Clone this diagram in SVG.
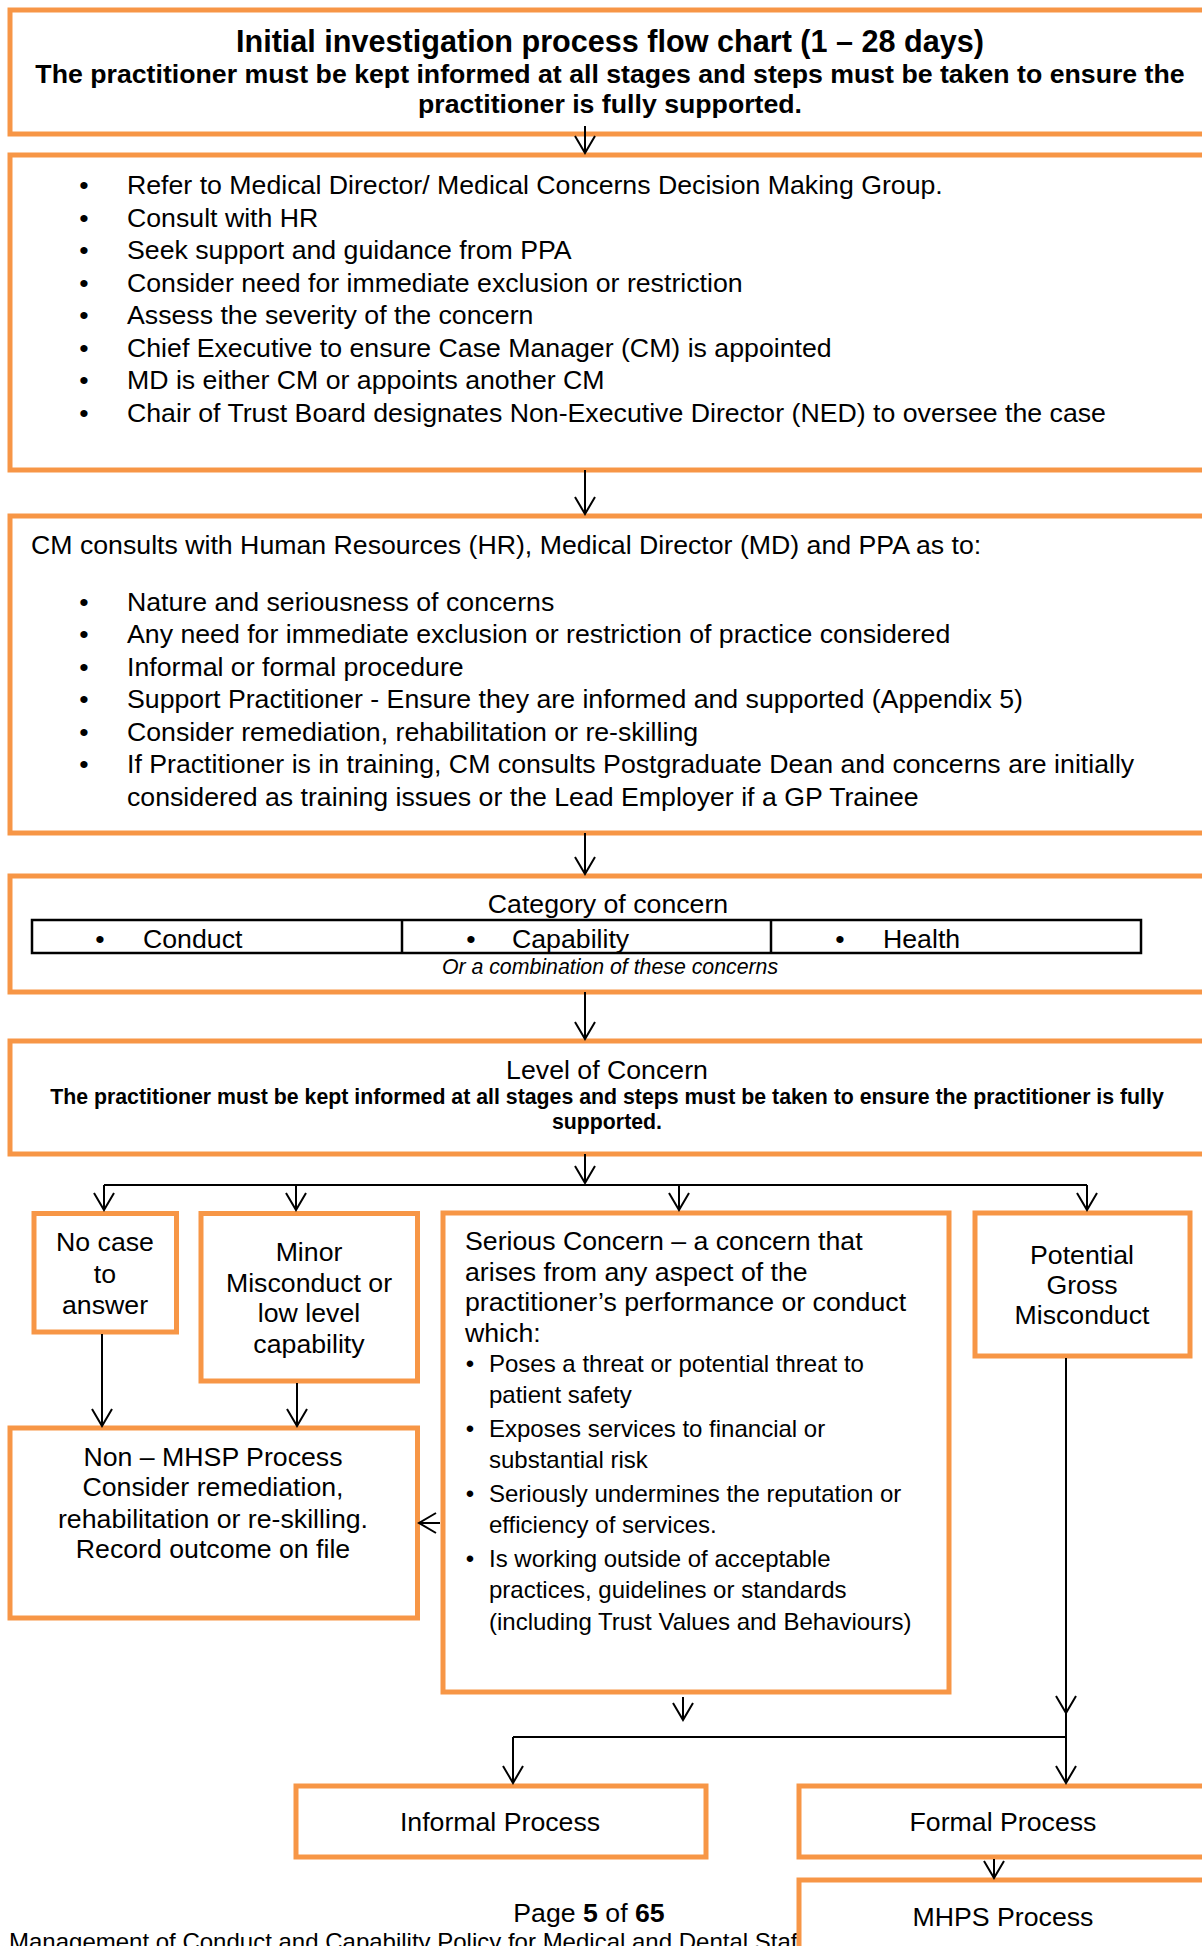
<svg xmlns="http://www.w3.org/2000/svg" width="1202" height="1946" viewBox="0 0 1202 1946">
<style>
.box{fill:#fff;stroke:#F79646;stroke-width:5}
.t{font-family:"Liberation Sans",Arial,sans-serif;font-size:26.7px;fill:#000}
.s{font-size:24px}
.b{font-weight:bold}
.m{text-anchor:middle}
.c{stroke:#000;stroke-width:2;fill:none}
.ah{stroke:#000;stroke-width:2;fill:none}
</style>
<defs>
<marker id="arr" markerUnits="userSpaceOnUse" markerWidth="24" markerHeight="24" viewBox="-20 -12 22 24" refX="0" refY="0" orient="auto" overflow="visible">
<path class="ah" d="M-17,-10 L0,0 L-17,10"/>
</marker>
</defs>
<rect width="1202" height="1946" fill="#fff"/>

<g id="header">
<rect class="box" x="10" y="10" width="1200" height="124"/>
<text class="t b m" x="610" y="52" style="font-size:30.6px">Initial investigation process flow chart (1 – 28 days)</text>
<text class="t b m" x="610" y="83">The practitioner must be kept informed at all stages and steps must be taken to ensure the</text>
<text class="t b m" x="610" y="113">practitioner is fully supported.</text>
</g>

<g id="refer">
<rect class="box" x="10" y="155" width="1200" height="315"/>
<g class="t">
<text x="84" y="194" class="m">•</text><text x="127" y="194">Refer to Medical Director/ Medical Concerns Decision Making Group.</text>
<text x="84" y="226.5" class="m">•</text><text x="127" y="226.5">Consult with HR</text>
<text x="84" y="259" class="m">•</text><text x="127" y="259">Seek support and guidance from PPA</text>
<text x="84" y="291.5" class="m">•</text><text x="127" y="291.5">Consider need for immediate exclusion or restriction</text>
<text x="84" y="324" class="m">•</text><text x="127" y="324">Assess the severity of the concern</text>
<text x="84" y="356.5" class="m">•</text><text x="127" y="356.5">Chief Executive to ensure Case Manager (CM) is appointed</text>
<text x="84" y="389" class="m">•</text><text x="127" y="389">MD is either CM or appoints another CM</text>
<text x="84" y="421.5" class="m">•</text><text x="127" y="421.5">Chair of Trust Board designates Non-Executive Director (NED) to oversee the case</text>
</g>
</g>

<g id="consult">
<rect class="box" x="10" y="516" width="1200" height="317"/>
<g class="t">
<text x="31" y="553.5">CM consults with Human Resources (HR), Medical Director (MD) and PPA as to:</text>
<text x="84" y="610.5" class="m">•</text><text x="127" y="610.5">Nature and seriousness of concerns</text>
<text x="84" y="643" class="m">•</text><text x="127" y="643">Any need for immediate exclusion or restriction of practice considered</text>
<text x="84" y="675.5" class="m">•</text><text x="127" y="675.5">Informal or formal procedure</text>
<text x="84" y="708" class="m">•</text><text x="127" y="708">Support Practitioner  - Ensure they are informed and supported (Appendix 5)</text>
<text x="84" y="740.5" class="m">•</text><text x="127" y="740.5">Consider remediation, rehabilitation or re-skilling</text>
<text x="84" y="773" class="m">•</text><text x="127" y="773">If Practitioner is in training, CM consults Postgraduate Dean and concerns are initially</text>
<text x="127" y="805.5">considered as training issues or the Lead Employer if a GP Trainee</text>
</g>
</g>

<g id="category">
<rect class="box" x="10" y="876" width="1200" height="116"/>
<text class="t m" x="608" y="912.5">Category of concern</text>
<rect x="32" y="920" width="1109" height="33" fill="none" stroke="#000" stroke-width="2.5"/>
<line x1="402" y1="920" x2="402" y2="953" stroke="#000" stroke-width="2.5"/>
<line x1="771" y1="920" x2="771" y2="953" stroke="#000" stroke-width="2.5"/>
<g class="t">
<text x="100" y="947.5" class="m">•</text><text x="143" y="947.5">Conduct</text>
<text x="471" y="947.5" class="m">•</text><text x="512" y="947.5">Capability</text>
<text x="840" y="947.5" class="m">•</text><text x="883" y="947.5">Health</text>
</g>
<text class="t m" x="610" y="974" style="font-size:21.3px;font-style:italic">Or a combination of these concerns</text>
</g>

<g id="level">
<rect class="box" x="10" y="1041" width="1200" height="113"/>
<text class="t m" x="607" y="1079">Level of Concern</text>
<text class="t b m" x="607" y="1104" style="font-size:21.3px">The practitioner must be kept informed at all stages and steps must be taken to ensure the practitioner is fully</text>
<text class="t b m" x="607" y="1129" style="font-size:21.3px">supported.</text>
</g>

<g id="nocase">
<rect class="box" x="34" y="1213.5" width="142.5" height="118.5"/>
<text class="t m" x="105" y="1251">No case</text>
<text class="t m" x="105" y="1283">to</text>
<text class="t m" x="105" y="1314">answer</text>
</g>

<g id="minor">
<rect class="box" x="201" y="1213.5" width="216.5" height="167.5"/>
<text class="t m" x="309" y="1261">Minor</text>
<text class="t m" x="309" y="1292">Misconduct or</text>
<text class="t m" x="309" y="1322">low level</text>
<text class="t m" x="309" y="1353">capability</text>
</g>

<g id="serious">
<rect class="box" x="443" y="1213" width="506" height="479"/>
<g class="t">
<text x="465" y="1249.5">Serious Concern – a concern that</text>
<text x="465" y="1280.5">arises from any aspect of the</text>
<text x="465" y="1311">practitioner’s performance or conduct</text>
<text x="465" y="1341.5">which:</text>
</g>
<g class="t s">
<text x="470" y="1371.5" class="m">•</text><text x="489" y="1371.5">Poses a threat or potential threat to</text>
<text x="489" y="1403">patient safety</text>
<text x="470" y="1436.5" class="m">•</text><text x="489" y="1436.5">Exposes services to financial or</text>
<text x="489" y="1468">substantial risk</text>
<text x="470" y="1501.5" class="m">•</text><text x="489" y="1501.5">Seriously undermines the reputation or</text>
<text x="489" y="1533">efficiency of services.</text>
<text x="470" y="1566.5" class="m">•</text><text x="489" y="1566.5">Is working outside of acceptable</text>
<text x="489" y="1598">practices, guidelines or standards</text>
<text x="489" y="1629.5">(including Trust Values and Behaviours)</text>
</g>
</g>

<g id="potential">
<rect class="box" x="975" y="1213" width="215" height="143"/>
<text class="t m" x="1082" y="1264">Potential</text>
<text class="t m" x="1082" y="1294">Gross</text>
<text class="t m" x="1082" y="1324">Misconduct</text>
</g>

<g id="nonmhsp">
<rect class="box" x="10" y="1428" width="407.5" height="190"/>
<text class="t m" x="213" y="1466">Non – MHSP Process</text>
<text class="t m" x="213" y="1496">Consider remediation,</text>
<text class="t m" x="213" y="1528">rehabilitation or re-skilling.</text>
<text class="t m" x="213" y="1558">Record outcome on file</text>
</g>

<g id="informal">
<rect class="box" x="296" y="1786" width="410" height="71"/>
<text class="t m" x="500" y="1831">Informal Process</text>
</g>

<g id="formal">
<rect class="box" x="799" y="1786" width="420" height="71"/>
<text class="t m" x="1003" y="1831">Formal Process</text>
</g>

<g id="footer">
<text class="t m" x="589" y="1922">Page <tspan class="b">5</tspan> of <tspan class="b">65</tspan></text>
<text class="t s" x="9" y="1950">Management of Conduct and Capability Policy for Medical and Dental Staff</text>
</g>

<g id="mhps">
<rect class="box" x="799" y="1880" width="420" height="100"/>
<text class="t m" x="1003" y="1926">MHPS Process</text>
</g>

<g id="connectors">
<line class="c" x1="585" y1="126" x2="585" y2="153" marker-end="url(#arr)"/>
<line class="c" x1="585" y1="470" x2="585" y2="514" marker-end="url(#arr)"/>
<line class="c" x1="585" y1="833" x2="585" y2="874" marker-end="url(#arr)"/>
<line class="c" x1="585" y1="992" x2="585" y2="1039" marker-end="url(#arr)"/>
<line class="c" x1="585" y1="1154" x2="585" y2="1183" marker-end="url(#arr)"/>
<line class="c" x1="104" y1="1185" x2="1087" y2="1185"/>
<line class="c" x1="104" y1="1185" x2="104" y2="1210" marker-end="url(#arr)"/>
<line class="c" x1="296" y1="1185" x2="296" y2="1210" marker-end="url(#arr)"/>
<line class="c" x1="679" y1="1185" x2="679" y2="1210" marker-end="url(#arr)"/>
<line class="c" x1="1087" y1="1185" x2="1087" y2="1210" marker-end="url(#arr)"/>
<line class="c" x1="102" y1="1334" x2="102" y2="1426" marker-end="url(#arr)"/>
<line class="c" x1="297" y1="1383" x2="297" y2="1426" marker-end="url(#arr)"/>
<line class="c" x1="440" y1="1523" x2="419" y2="1523" marker-end="url(#arr)"/>
<line class="c" x1="1066" y1="1358" x2="1066" y2="1713" marker-end="url(#arr)"/>
<line class="c" x1="1066" y1="1713" x2="1066" y2="1783" marker-end="url(#arr)"/>
<line class="c" x1="683" y1="1697" x2="683" y2="1720" marker-end="url(#arr)"/>
<line class="c" x1="513" y1="1737" x2="1066" y2="1737"/>
<line class="c" x1="513" y1="1737" x2="513" y2="1783" marker-end="url(#arr)"/>
<line class="c" x1="994" y1="1859" x2="994" y2="1878" marker-end="url(#arr)"/>
</g>
</svg>
